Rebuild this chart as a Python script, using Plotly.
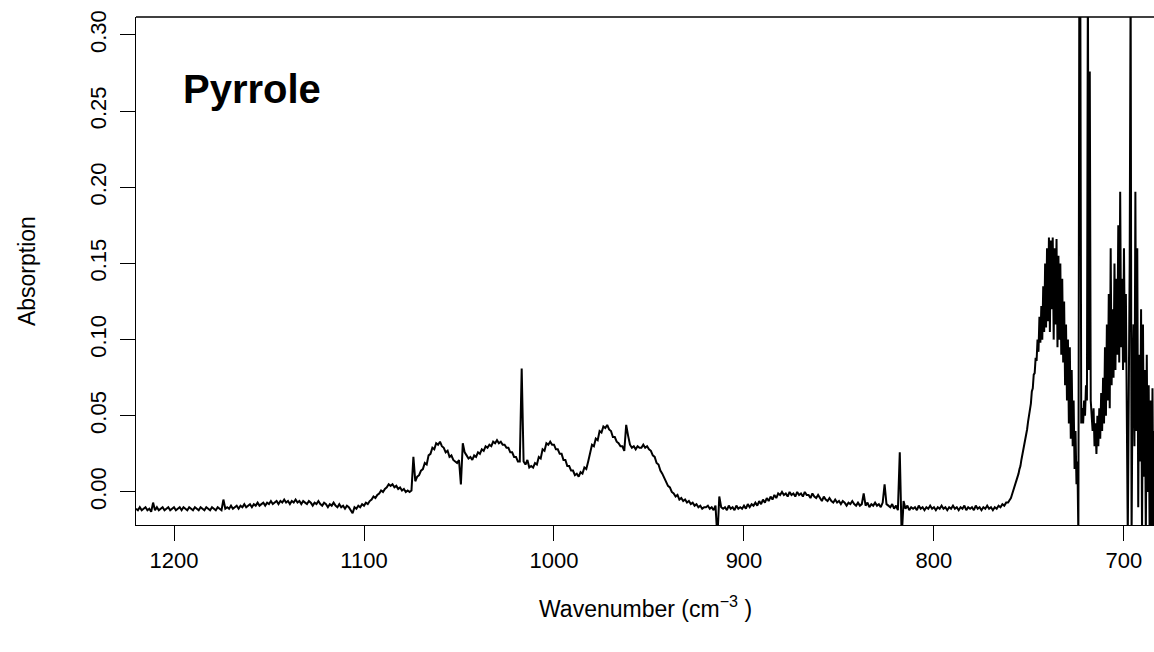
import numpy as np
import plotly.graph_objects as go

# Absorption values in milli-absorbance units
# 1220 -> 1111 cm-1, step 1
absorb_1220_1111 = [
    -11, -12, -10, -12, -11, -10, -12, -11, -13, -7,
    -12, -10, -12, -11, -10, -12, -11, -10, -12, -11,
    -10, -12, -11, -10, -12, -10, -11, -12, -10, -11,
    -12, -10, -11, -12, -10, -11, -12, -10, -11, -12,
    -10, -11, -12, -10, -11, -12, -5, -11, -10, -11,
    -9, -11, -10, -9, -11, -9, -10, -8, -10, -9,
    -8, -10, -8, -9, -7, -9, -8, -7, -9, -7,
    -8, -6, -8, -7, -6, -8, -6, -7, -5, -7,
    -6, -8, -6, -7, -5, -7, -6, -8, -6, -7,
    -8, -6, -7, -9, -7, -8, -6, -8, -9, -7,
    -8, -10, -8, -9, -7, -9, -10, -8, -10, -9,
]
# 1110 -> 941 cm-1, step 1
absorb_1110_941 = [
    -11, -9, -10, -12, -14, -10, -11, -9, -10, -8,
    -9, -7, -8, -6, -5, -3, -4, -2, -1, 1,
    0, 2, 3, 5, 4, 5, 3, 4, 2, 3,
    1, 2, 0, 1, 0, 1, 23, 7, 10, 11,
    14, 15, 19, 18, 24, 25, 29, 28, 32, 31,
    33, 30, 29, 26, 27, 23, 24, 21, 20, 19,
    21, 5, 32, 26, 24, 22, 23, 21, 24, 23,
    26, 25, 28, 27, 30, 29, 31, 30, 33, 32,
    34, 32, 33, 31, 31, 29, 29, 26, 26, 23,
    23, 20, 20, 81, 20, 18, 21, 16, 17, 16,
    19, 18, 23, 22, 28, 27, 32, 31, 33, 31,
    31, 28, 28, 25, 25, 21, 21, 17, 17, 14,
    14, 11, 12, 10, 13, 12, 16, 15, 20, 26,
    31, 30, 35, 34, 40, 39, 43, 42, 44, 41,
    40, 36, 36, 33, 32, 30, 30, 27, 44, 37,
    31, 29, 30, 28, 30, 29, 29, 31, 29, 30,
    28, 27, 24, 23, 19, 18, 14, 12, 9, 7,
]
# 940 -> 761 cm-1, step 1
absorb_940_761 = [
    4, 3, 0, -1, -3, -2, -5, -4, -6, -5,
    -7, -6, -8, -7, -9, -8, -10, -9, -11, -10,
    -10, -9, -11, -10, -12, -9, -30, -3, -10, -11,
    -10, -12, -9, -11, -10, -12, -9, -11, -10, -11,
    -9, -11, -8, -10, -8, -9, -7, -9, -6, -8,
    -5, -7, -4, -6, -3, -5, -2, -4, -1, -2,
    0, -2, -1, -3, 0, -2, -1, -3, 0, -2,
    -1, -3, 0, -2, -2, -4, -1, -3, -4, -2,
    -4, -6, -3, -5, -6, -4, -6, -7, -5, -7,
    -6, -8, -6, -7, -9, -7, -8, -6, -8, -9,
    -7, -9, -8, -1, -9, -7, -10, -8, -9, -7,
    -9, -8, -10, -7, 5, -8, -9, -10, -8, -11,
    -9, -12, 26, -30, -6, -11, -9, -12, -10, -11,
    -10, -12, -9, -11, -10, -12, -10, -11, -9, -11,
    -10, -12, -10, -11, -9, -11, -10, -12, -10, -11,
    -9, -11, -10, -12, -10, -11, -9, -12, -10, -11,
    -10, -12, -9, -11, -10, -12, -10, -11, -9, -11,
    -10, -12, -10, -11, -9, -10, -8, -9, -7, -7,
]
# 760 -> 684 cm-1, step 0.5
absorb_760_684 = [
    -5, -4, -2, 0, 2, 3, 6, 7, 10, 12,
    15, 17, 21, 24, 27, 30, 34, 38, 41, 46,
    50, 55, 58, 66, 68, 77, 78, 88, 86, 100,
    92, 115, 98, 122, 100, 135, 105, 150, 108, 160,
    112, 167, 105, 165, 120, 167, 100, 160, 110, 166,
    95, 155, 100, 150, 90, 140, 85, 125, 70, 110,
    60, 100, 45, 95, 35, 80, 30, 60, 15, 40,
    5, 20, -30, 340, 340, 45, 55, 45, 60, 50,
    70, 60, 340, 80, 276, 60, 50, 40, 55, 30,
    45, 25, 50, 30, 55, 35, 65, 40, 75, 45,
    95, 50, 110, 60, 130, 55, 160, 70, 120, 75,
    150, 80, 140, 90, 175, 85, 197, 95, 140, 80,
    160, 85, 130, 60, -30, 60, 150, 340, -30, 70,
    110, 30, 197, 40, 160, -10, 90, 20, 120, -30,
    110, 10, 80, -30, 90, 0, 70, -30, 60, -30,
    68, -30, 40,
]

segments = [
    (1220.0, 1.0, absorb_1220_1111),
    (1110.0, 1.0, absorb_1110_941),
    (940.0, 1.0, absorb_940_761),
    (760.0, 0.5, absorb_760_684),
]

x_ticks = [1200, 1100, 1000, 900, 800, 700]
y_ticks = [0.00, 0.05, 0.10, 0.15, 0.20, 0.25, 0.30]
y_tick_labels = ["0.00", "0.05", "0.10", "0.15", "0.20", "0.25", "0.30"]

wn = np.concatenate([s - st * np.arange(len(v)) for s, st, v in segments])
ab = np.concatenate([np.array(v, dtype=float) / 1000.0 for _, _, v in segments])

FONT = "Liberation Sans, Arial, Helvetica, sans-serif"
TICK_SIZE = 22
TITLE_SIZE = 23

fig = go.Figure()
fig.add_trace(go.Scatter(x=wn, y=ab, mode="lines",
                         line=dict(color="black", width=2.0),
                         hoverinfo="skip", showlegend=False))

fig.update_layout(
    width=1154, height=652,
    margin=dict(l=136, r=0, t=17, b=127),
    paper_bgcolor="white", plot_bgcolor="white",
    font=dict(family=FONT, size=TICK_SIZE, color="black"),
    xaxis=dict(range=[1220, 684.2], tickvals=x_ticks,
               ticks="outside", ticklen=15, tickwidth=1.3, tickcolor="black",
               showline=True, linecolor="black", linewidth=1.3,
               showgrid=False, zeroline=False,
               tickfont=dict(family=FONT, size=TICK_SIZE, color="black")),
    yaxis=dict(range=[-0.0217, 0.3118], tickvals=y_ticks, ticktext=y_tick_labels,
               ticks="outside", ticklen=15, tickwidth=1.3, tickcolor="black",
               tickangle=-90, ticklabelstandoff=5,
               showline=True, linecolor="black", linewidth=1.3,
               showgrid=False, zeroline=False,
               tickfont=dict(family=FONT, size=TICK_SIZE, color="black")),
    shapes=[dict(type="line", xref="paper", yref="paper", x0=0, x1=1, y0=1, y1=1,
                 line=dict(color="black", width=1.3))],
    annotations=[
        dict(text="<b>Pyrrole</b>", xref="paper", yref="paper",
             x=0.0442, y=0.859, xanchor="left", yanchor="middle",
             showarrow=False, font=dict(family=FONT, size=40, color="black")),
        dict(text="Absorption", xref="paper", yref="paper",
             x=-0.107, y=0.5, xanchor="center", yanchor="middle", textangle=-90,
             showarrow=False, font=dict(family=FONT, size=TITLE_SIZE, color="black")),
        dict(text="Wavenumber (cm<sup>\u22123</sup> )", xref="paper", yref="paper",
             x=0.5, y=-0.161, xanchor="center", yanchor="middle",
             showarrow=False, font=dict(family=FONT, size=TITLE_SIZE, color="black")),
    ],
)

fig.write_html("out.html")
